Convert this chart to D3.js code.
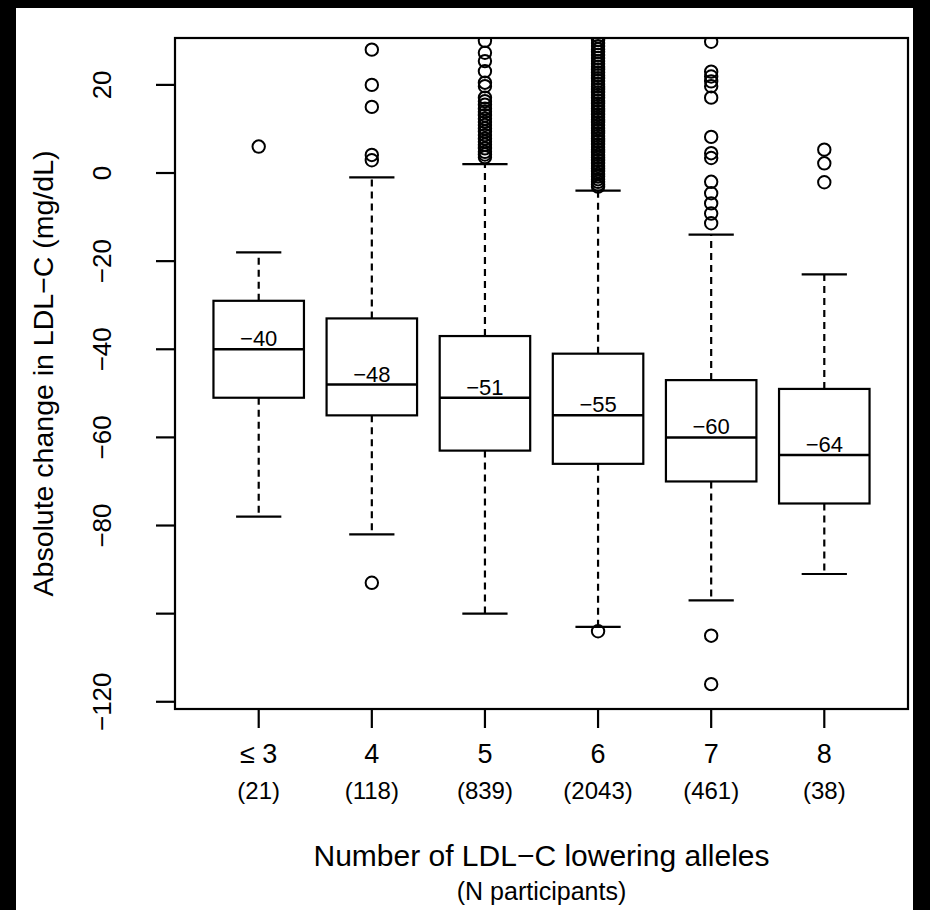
<!DOCTYPE html>
<html>
<head>
<meta charset="utf-8">
<script src="https://cdn.jsdelivr.net/npm/d3@7"></script>
<style>
  html, body { margin: 0; padding: 0; background: #000; }
  svg { display: block; }
  text { font-family: "Liberation Sans", Arial, Helvetica, sans-serif; fill: #000; }
</style>
</head>
<body>
<script>
// Allele-count groups and their participant counts
const categories = ["≤ 3", "4", "5", "6", "7", "8"];
const counts = ["(21)", "(118)", "(839)", "(2043)", "(461)", "(38)"];

// Box-plot summaries of absolute LDL-C change (mg/dL)
const whiskerHigh = [-18, -1, 2, -4, -14, -23];
const upperQuartile = [-29, -33, -37, -41, -47, -49];
const medians = [-40, -48, -51, -55, -60, -64];
const lowerQuartile = [-51, -55, -63, -66, -70, -75];
const whiskerLow = [-78, -82, -100, -103, -97, -91];

// Outlying observations per group
const outliers = [
  [6],
  [28, 20, 15, 4.1, 2.9, -93],
  [30, 27.3, 25.4, 23.1, 20.5, 19.7, 17.1, 16.3, 15.5, 14.6, 13.9, 13.1, 12.3, 11.6,
   10.9, 10.1, 9.4, 8.6, 7.8, 7.1, 6.4, 5.6, 4.8, 4.2, 3.6],
  [31, 30.2, 29.5, 28.8, 28.1, 27.5, 26.8, 26.1, 25.4, 24.8, 24.1, 23.5, 22.8, 22.2,
   21.5, 20.9, 20.2, 19.6, 19, 18.3, 17.7, 17.1, 16.4, 15.8, 15.2, 14.6, 14, 13.3,
   12.7, 12.1, 11.5, 10.9, 10.2, 9.6, 9, 8.4, 7.8, 7.2, 6.5, 5.9, 5.3, 4.7, 4.1, 3.5,
   2.9, 2.2, 1.6, 1, 0.4, -0.2, -0.8, -1.4, -2, -2.6, -3.1, -104],
  [29.8, 23, 21.9, 20.8, 19.7, 17.1, 8.2, 4.5, 3.4, -2, -4.6, -6.9, -9.2, -11.4, -105, -116],
  [5.3, 2.2, -2.1]
];

// Axis ticks
const yTicks = [20, 0, -20, -40, -60, -80, -100, -120];
const yTickLabels = ["20", "0", "−20", "−40", "−60", "−80", "", "−120"];

const W = 930, H = 910;
const plot = { left: 175, right: 908, top: 38, bottom: 709 };

const svg = d3.select("body").append("svg")
  .attr("width", W).attr("height", H);

// framed white canvas
svg.append("rect").attr("x", 0).attr("y", 0).attr("width", W).attr("height", H).attr("fill", "#000");
svg.append("rect").attr("x", 16).attr("y", 8).attr("width", 897).attr("height", H - 8).attr("fill", "#fff");

const x = d3.scaleLinear().domain([0.26, 6.74]).range([plot.left, plot.right]);
const y = d3.scaleLinear().domain([-121.64, 30.64]).range([plot.bottom, plot.top]);

const boxHalf = 0.4, stapleHalf = 0.2;
const lw = 2.2;

svg.append("clipPath").attr("id", "plotclip")
  .append("rect")
  .attr("x", plot.left).attr("y", plot.top)
  .attr("width", plot.right - plot.left).attr("height", plot.bottom - plot.top);

const g = svg.append("g").attr("clip-path", "url(#plotclip)");

const groups = g.selectAll("g.box").data(categories.map((c, i) => i)).join("g").attr("class", "box");

// dashed whiskers
groups.append("line")
  .attr("x1", i => x(i + 1)).attr("x2", i => x(i + 1))
  .attr("y1", i => y(upperQuartile[i])).attr("y2", i => y(whiskerHigh[i]))
  .attr("stroke", "#000").attr("stroke-width", lw).attr("stroke-dasharray", "7,5");
groups.append("line")
  .attr("x1", i => x(i + 1)).attr("x2", i => x(i + 1))
  .attr("y1", i => y(lowerQuartile[i])).attr("y2", i => y(whiskerLow[i]))
  .attr("stroke", "#000").attr("stroke-width", lw).attr("stroke-dasharray", "7,5");

// staples
groups.append("line")
  .attr("x1", i => x(i + 1 - stapleHalf)).attr("x2", i => x(i + 1 + stapleHalf))
  .attr("y1", i => y(whiskerHigh[i])).attr("y2", i => y(whiskerHigh[i]))
  .attr("stroke", "#000").attr("stroke-width", lw);
groups.append("line")
  .attr("x1", i => x(i + 1 - stapleHalf)).attr("x2", i => x(i + 1 + stapleHalf))
  .attr("y1", i => y(whiskerLow[i])).attr("y2", i => y(whiskerLow[i]))
  .attr("stroke", "#000").attr("stroke-width", lw);

// boxes
groups.append("rect")
  .attr("x", i => x(i + 1 - boxHalf))
  .attr("width", i => x(i + 1 + boxHalf) - x(i + 1 - boxHalf))
  .attr("y", i => y(upperQuartile[i]))
  .attr("height", i => y(lowerQuartile[i]) - y(upperQuartile[i]))
  .attr("fill", "#fff").attr("stroke", "#000").attr("stroke-width", lw);

// medians
groups.append("line")
  .attr("x1", i => x(i + 1 - boxHalf)).attr("x2", i => x(i + 1 + boxHalf))
  .attr("y1", i => y(medians[i])).attr("y2", i => y(medians[i]))
  .attr("stroke", "#000").attr("stroke-width", 2.5);

// outliers
groups.selectAll("circle")
  .data(i => outliers[i].map(v => ({ i, v })))
  .join("circle")
  .attr("cx", d => x(d.i + 1)).attr("cy", d => y(d.v))
  .attr("r", 6.2)
  .attr("fill", "none").attr("stroke", "#000").attr("stroke-width", 2);

// median value labels
const fmt = d3.format(".0f");
svg.selectAll("text.med").data(medians).join("text").attr("class", "med")
  .attr("x", (d, i) => x(i + 1))
  .attr("y", d => y(d) - 3)
  .attr("text-anchor", "middle")
  .attr("font-size", 22)
  .text(d => fmt(d));

// plot frame
svg.append("rect")
  .attr("x", plot.left).attr("y", plot.top)
  .attr("width", plot.right - plot.left).attr("height", plot.bottom - plot.top)
  .attr("fill", "none").attr("stroke", "#000").attr("stroke-width", lw);

// y axis
const yAxis = svg.append("g");
yAxis.selectAll("line").data(yTicks).join("line")
  .attr("x1", plot.left - 19).attr("x2", plot.left)
  .attr("y1", d => y(d)).attr("y2", d => y(d))
  .attr("stroke", "#000").attr("stroke-width", lw);
yAxis.selectAll("text").data(yTicks).join("text")
  .attr("transform", (d, i) => `translate(${plot.left - 73},${y(d)}) rotate(-90)`)
  .attr("text-anchor", "middle").attr("dy", "0.36em")
  .attr("font-size", 26)
  .text((d, i) => yTickLabels[i]);

svg.append("text")
  .attr("transform", `translate(43,${(plot.top + plot.bottom) / 2}) rotate(-90)`)
  .attr("text-anchor", "middle").attr("dy", "0.36em")
  .attr("font-size", 28.5)
  .text("Absolute change in LDL−C (mg/dL)");

// x axis
const xAxis = svg.append("g");
xAxis.selectAll("line").data(categories).join("line")
  .attr("x1", (d, i) => x(i + 1)).attr("x2", (d, i) => x(i + 1))
  .attr("y1", plot.bottom).attr("y2", plot.bottom + 19)
  .attr("stroke", "#000").attr("stroke-width", lw);
xAxis.selectAll("text.cat").data(categories).join("text").attr("class", "cat")
  .attr("x", (d, i) => x(i + 1)).attr("y", 763)
  .attr("text-anchor", "middle").attr("font-size", 27)
  .text(d => d);
xAxis.selectAll("text.n").data(counts).join("text").attr("class", "n")
  .attr("x", (d, i) => x(i + 1)).attr("y", 799)
  .attr("text-anchor", "middle").attr("font-size", 24)
  .text(d => d);

svg.append("text")
  .attr("x", (plot.left + plot.right) / 2).attr("y", 866)
  .attr("text-anchor", "middle").attr("font-size", 30)
  .text("Number of LDL−C lowering alleles");
svg.append("text")
  .attr("x", (plot.left + plot.right) / 2).attr("y", 900)
  .attr("text-anchor", "middle").attr("font-size", 25)
  .text("(N participants)");
</script>
</body>
</html>
